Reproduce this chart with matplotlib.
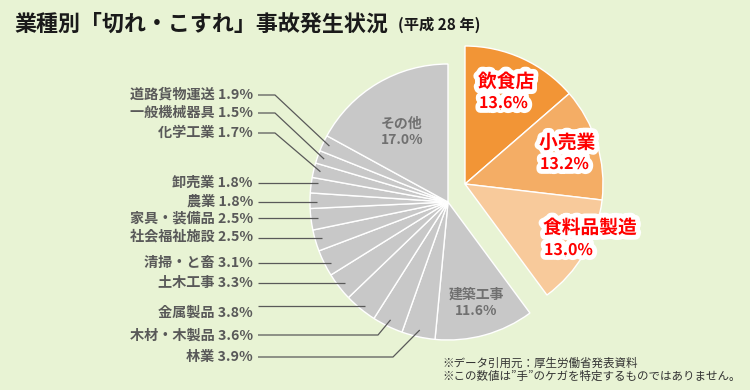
import matplotlib
matplotlib.use("Agg")
import matplotlib.pyplot as plt
import matplotlib.patheffects as pe
import numpy as np

plt.rcParams['font.family'] = ['Noto Sans CJK JP', 'DejaVu Sans']

# ---- data (clockwise from top) ----
categories = ["飲食店", "小売業", "食料品製造", "建築工事", "林業", "木材・木製品", "金属製品",
              "土木工事", "清掃・と畜", "社会福祉施設", "家具・装備品", "農業", "卸売業",
              "化学工業", "一般機械器具", "道路貨物運送", "その他"]
values = [13.6, 13.2, 13.0, 11.6, 3.9, 3.6, 3.8, 3.3, 3.1, 2.5, 2.5, 1.8, 1.8, 1.7, 1.5, 1.9, 17.0]
highlight = ["飲食店", "小売業", "食料品製造"]
highlight_colors = ["#F29536", "#F4AD65", "#F8CA9B"]
gray = "#C8C8C8"

# left labels (top to bottom) with their label y positions (px)
left_labels = ["道路貨物運送", "一般機械器具", "化学工業", "卸売業", "農業", "家具・装備品",
               "社会福祉施設", "清掃・と畜", "土木工事", "金属製品", "木材・木製品", "林業"]
left_label_y = [95, 113, 133, 183, 202, 218, 237, 263, 283, 313, 336, 357]
left_line_y = [95, 113, 133, 183, 202, 218, 238, 263, 283, 306, 335, 357]
elbow_x = [275, 275, 275, None, None, None, None, None, None, None, 378, 393]

W, H = 750, 390
fig = plt.figure(figsize=(7.5, 3.9), dpi=100)
fig.patch.set_facecolor("#E8F3D4")
ax = fig.add_axes([0, 0, 1, 1])

R = 138
gcx, gcy = 448, H - 202
ocx, ocy = 465, H - 184

colors = []
for c in categories:
    if c in highlight:
        colors.append(highlight_colors[highlight.index(c)])
    else:
        colors.append(gray)

wedges, _ = ax.pie(values, colors=colors, startangle=90, counterclock=False,
                   radius=R, center=(gcx, gcy), frame=True,
                   wedgeprops=dict(edgecolor="white", linewidth=1.0))
ax.set_xlim(0, W)
ax.set_ylim(0, H)
ax.set_aspect('equal')
ax.axis('off')
for w, c in zip(wedges, categories):
    if c in highlight:
        w.set_center((ocx, ocy))

def mid_angle(w):
    return np.deg2rad((w.theta1 + w.theta2) / 2)

# highlighted labels
pct = {c: v for c, v in zip(categories, values)}
hl_pos = {"飲食店": (478, 82, 103), "小売業": (539, 143, 164), "食料品製造": (543, 228, 250)}
stroke = [pe.withStroke(linewidth=7, foreground="white")]
for c in highlight:
    x, y1, y2 = hl_pos[c]
    ax.text(x, H - y1, c, color="#FF0000", fontsize=13.5, fontweight="bold",
            ha="left", va="center", path_effects=stroke, zorder=5)
    ax.text(x + 1, H - y2, f"{pct[c]:.1f}%", color="#FF0000", fontsize=11.5, fontweight="bold",
            ha="left", va="center", path_effects=stroke, zorder=5)

# inside gray labels
for c, (x, y1, y2) in {"その他": (402, 124, 140), "建築工事": (476, 295, 311)}.items():
    ax.text(x, H - y1, c, color="#707070", fontsize=10, fontweight="bold", ha="center", va="center")
    ax.text(x, H - y2, f"{pct[c]:.1f}%", color="#707070", fontsize=10, fontweight="bold",
            ha="center", va="center")

# left labels + leader lines
wmap = {c: w for c, w in zip(categories, wedges)}
for lab, ly, lly, ex in zip(left_labels, left_label_y, left_line_y, elbow_x):
    ax.text(253, H - ly, f"{lab} {pct[lab]:.1f}%", color="#595959", fontsize=10.2,
            fontweight="bold", ha="right", va="center")
    w = wmap[lab]
    a = mid_angle(w)
    px = gcx + 0.95 * R * np.cos(a)
    py = gcy + 0.95 * R * np.sin(a)
    if ex is None:
        xs, ys = [258, px], [H - lly, H - lly]
    else:
        xs, ys = [258, ex, px], [H - lly, H - lly, py]
    ax.plot(xs, ys, color="#595959", lw=0.9, solid_capstyle="butt", zorder=4)

# title
ax.text(14, H - 24, "業種別「切れ・こすれ」事故発生状況", fontsize=15.8, fontweight="bold",
        color="#1A1A1A", ha="left", va="center")
ax.text(398, H - 25, "(平成 28 年)", fontsize=11, fontweight="bold",
        color="#1A1A1A", ha="left", va="center")

# footnotes
ax.text(442, H - 363, "※データ引用元：厚生労働省発表資料", fontsize=8.3, color="#333333",
        ha="left", va="center")
ax.text(442, H - 376, "※この数値は”手”のケガを特定するものではありません。", fontsize=8.3,
        color="#333333", ha="left", va="center")

fig.savefig("out.png", dpi=100, facecolor=fig.get_facecolor())
